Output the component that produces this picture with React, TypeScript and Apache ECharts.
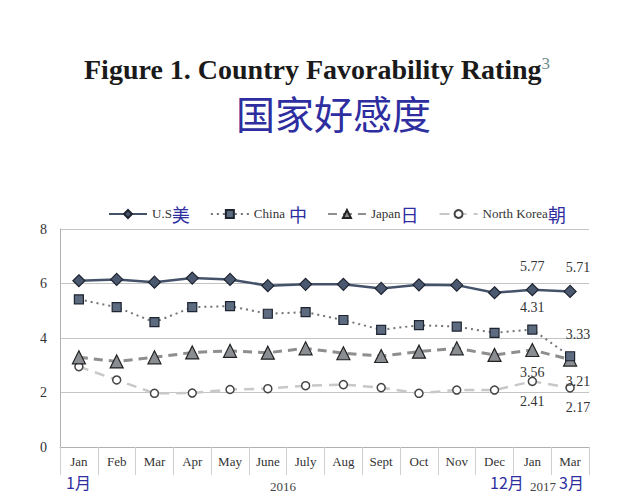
import React, { useEffect, useRef } from "react";
import * as echarts from "echarts";

const months = ["Jan", "Feb", "Mar", "Apr", "May", "June", "July", "Aug", "Sept", "Oct", "Nov", "Dec", "Jan", "Mar"];
const usValues = [6.1, 6.15, 6.05, 6.2, 6.15, 5.92, 5.97, 5.97, 5.82, 5.95, 5.94, 5.66, 5.77, 5.71];
const chinaValues = [5.42, 5.13, 4.58, 5.13, 5.17, 4.89, 4.95, 4.66, 4.3, 4.47, 4.42, 4.19, 4.31, 3.33];
const japanValues = [3.29, 3.14, 3.29, 3.47, 3.53, 3.46, 3.62, 3.44, 3.34, 3.5, 3.62, 3.38, 3.56, 3.21];
const nkValues = [2.95, 2.46, 1.97, 1.98, 2.11, 2.14, 2.25, 2.29, 2.18, 1.97, 2.09, 2.09, 2.41, 2.17];
const seriesNames = ["U.S", "China", "Japan", "North Korea"];
const seriesZh = ["美", " 中", "日", "朝"];
const yTicks = { min: 0, max: 8, interval: 2 };

const SERIF = "'Liberation Serif', 'Times New Roman', serif";
const CJK = "'Noto Sans CJK SC', sans-serif";
const BLUE = "#2e2ea0";

function withLabels(values: number[], pos: "top" | "bottom") {
  const n = values.length;
  return values.map((v, i) => {
    if (i < n - 2) return v;
    const last = i === n - 1;
    return {
      value: v,
      label: {
        show: true,
        position: pos,
        distance: pos === "top" ? 10 : 8,
        offset: last ? [8, 0] : [0, 0],
        formatter: v.toFixed(2),
        fontFamily: SERIF,
        fontSize: 14,
        color: "#333",
      },
    };
  });
}

export default function App() {
  const ref = useRef<HTMLDivElement>(null);
  useEffect(() => {
    if (!ref.current) return;
    const chart = echarts.init(ref.current, undefined, { renderer: "svg" });
    const option: any = {
      animation: false,
      backgroundColor: "#ffffff",
      graphic: [
        {
          type: "text",
          left: 84,
          top: 55,
          style: {
            text: "{a|Figure 1. Country Favorability Rating}{s|3}",
            rich: {
              a: { fontFamily: SERIF, fontWeight: "bold", fontSize: 28, fill: "#1a1a1a" },
              s: { fontFamily: SERIF, fontSize: 17, fill: "#6f8f8f", verticalAlign: "top", padding: [0, 0, 10, 0] },
            },
          },
        },
        {
          type: "text",
          left: 236,
          top: 92,
          style: { text: "国家好感度", font: `39px ${CJK}`, fill: BLUE },
        },
        { type: "text", left: 66, top: 474, style: { text: "1月", font: `16px ${CJK}`, fill: BLUE } },
        { type: "text", left: 270, top: 480, style: { text: "2016", font: `13px ${SERIF}`, fill: "#444" } },
        { type: "text", left: 490, top: 474, style: { text: "12月", font: `16px ${CJK}`, fill: BLUE } },
        { type: "text", left: 530, top: 480, style: { text: "2017", font: `13px ${SERIF}`, fill: "#444" } },
        { type: "text", left: 559, top: 474, style: { text: "3月", font: `16px ${CJK}`, fill: BLUE } },
      ],
      legend: {
        left: 103,
        top: 200,
        itemWidth: 38,
        itemHeight: 10,
        itemGap: 20,
        data: seriesNames,
        formatter: (name: string) => `{en|${name}}{zh|${seriesZh[seriesNames.indexOf(name)]}}`,
        textStyle: {
          rich: {
            en: { fontFamily: SERIF, fontSize: 13, color: "#333" },
            zh: { fontFamily: CJK, fontSize: 18, color: BLUE },
          },
        },
      },
      grid: { left: 60, right: 51, top: 229, bottom: 47 },
      xAxis: {
        type: "category",
        data: months,
        boundaryGap: true,
        axisLine: { lineStyle: { color: "#b0b0b0", width: 1 } },
        axisTick: { show: true, interval: 0, length: 28, lineStyle: { color: "#cfcfcf" } },
        axisLabel: { interval: 0, fontFamily: SERIF, fontSize: 13, color: "#333", margin: 8 },
      },
      yAxis: {
        type: "value",
        min: yTicks.min,
        max: yTicks.max,
        interval: yTicks.interval,
        axisLine: { show: true, lineStyle: { color: "#b0b0b0" } },
        axisTick: { show: false },
        splitLine: { lineStyle: { color: "#c4c4c4" } },
        axisLabel: { fontFamily: SERIF, fontSize: 14, color: "#333", margin: 13 },
      },
      series: [
        {
          name: seriesNames[0],
          type: "line",
          data: withLabels(usValues, "top"),
          symbol: "diamond",
          symbolSize: 12,
          lineStyle: { color: "#44536a", width: 2.5, type: "solid" },
          itemStyle: { color: "#4a5870", borderColor: "#1e2430", borderWidth: 1.2 },
          z: 5,
        },
        {
          name: seriesNames[1],
          type: "line",
          data: withLabels(chinaValues, "top"),
          symbol: "rect",
          symbolSize: 9,
          lineStyle: { color: "#6f7378", width: 2, type: [2, 4] },
          itemStyle: { color: "#5d6b80", borderColor: "#1e2430", borderWidth: 1.2 },
          z: 4,
        },
        {
          name: seriesNames[2],
          type: "line",
          data: withLabels(japanValues, "bottom"),
          symbol: "triangle",
          symbolSize: 13,
          lineStyle: { color: "#8e8e8e", width: 3, type: [9, 6] },
          itemStyle: { color: "#8a8d92", borderColor: "#222", borderWidth: 1.2 },
          z: 3,
        },
        {
          name: seriesNames[3],
          type: "line",
          data: withLabels(nkValues, "bottom"),
          symbol: "circle",
          symbolSize: 8,
          lineStyle: { color: "#c8c8c8", width: 2.5, type: [10, 7] },
          itemStyle: { color: "#ffffff", borderColor: "#444", borderWidth: 1.5 },
          z: 2,
        },
      ],
    };
    chart.setOption(option);
    return () => chart.dispose();
  }, []);
  return (
    <div
      ref={ref}
      style={{ position: "fixed", left: 0, top: 0, width: 640, height: 494, background: "#fff" }}
    />
  );
}
